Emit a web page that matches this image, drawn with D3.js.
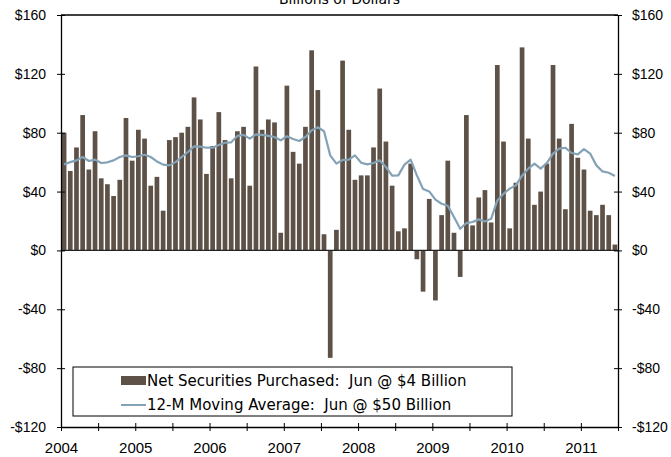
<!DOCTYPE html>
<html>
<head>
<meta charset="utf-8">
<script src="https://cdn.jsdelivr.net/npm/d3@7"></script>
<style>
  body { margin: 0; background: #fff; }
  svg { display: block; font-family: "DejaVu Sans", Verdana, sans-serif; }
</style>
</head>
<body>
<script>
// monthly net securities purchased, Jan 2004 .. Jun 2011 (billions)
const purchases = [
  80, 54, 70, 92, 55, 81, 49, 45, 37, 48, 90, 61,
  82, 76, 44, 50, 27, 75, 77, 80, 84, 104, 89, 52,
  71, 94, 75, 49, 81, 84, 44, 125, 82, 89, 87, 12,
  112, 67, 59, 84, 136, 109, 11, -73, 14, 129, 82, 48,
  51, 51, 70, 110, 74, 44, 13, 15, 59, -6, -28, 35,
  -34, 24, 61, 12, -18, 92, 17, 36, 41, 19, 126, 74,
  15, 46, 138, 76, 31, 40, 59, 126, 76, 28, 86, 63,
  55, 27, 24, 31, 24, 4
];
// 12-month moving average
const movingAvg = [
  58.5, 60, 61.2, 63.5, 60.8, 61.7, 59.4, 59.9, 61.2, 63.5, 64.6, 63.5,
  64, 65, 63.5, 60.5, 58.3, 57.8, 60, 63.5, 66.9, 70.7, 70.5, 69.8,
  69.8, 71.7, 73.2, 73.5, 77.8, 78.5, 76, 78.9, 78.5, 77.8, 77.1, 74.8,
  77.6, 75.7, 74.4, 77.1, 81.6, 83.7, 81, 64.6, 59, 61.5, 61.7, 64.6,
  59.6, 58.5, 59.4, 61.2, 56.7, 50.8, 51, 58.3, 61.7, 51, 41.7, 40.1,
  34.5, 31.7, 30.4, 22.7, 14.7, 18.6, 19.3, 21.1, 19.7, 21.5, 34, 38.5,
  42, 44.2, 50.8, 55.6, 59, 55.6, 59.4, 65.8, 69.2, 69.8, 66.2, 65.3,
  68.9, 65.8, 57.8, 53.7, 52.8, 50.6
];
const years = ["2004", "2005", "2006", "2007", "2008", "2009", "2010", "2011"];
const yTicks = [-120, -80, -40, 0, 40, 80, 120, 160];
const legendItems = [
  "Net Securities Purchased:  Jun @ $4 Billion",
  "12-M Moving Average:  Jun @ $50 Billion"
];

const width = 671, height = 457;
const margin = {top: 15, right: 53, bottom: 30, left: 61};
const barColor = "#5e5248", lineColor = "#84a2b6";

const months = d3.range(purchases.length);

const x = d3.scaleBand()
  .domain(months)
  .range([margin.left, width - margin.right])
  .paddingInner(0.24)
  .paddingOuter(0.12);

// month index -> x position of month boundary
const xm = d3.scaleLinear()
  .domain([0, purchases.length])
  .range([margin.left, width - margin.right]);

const y = d3.scaleLinear()
  .domain([-120, 160])
  .range([height - margin.bottom, margin.top]);

const svg = d3.select("body").append("svg")
  .attr("width", width)
  .attr("height", height);

svg.append("text")
  .attr("x", (margin.left + width - margin.right) / 2)
  .attr("y", 4)
  .attr("text-anchor", "middle")
  .attr("font-size", 14)
  .text("Billions of Dollars");

// bars
svg.append("g")
  .attr("fill", barColor)
  .selectAll("rect")
  .data(purchases)
  .join("rect")
  .attr("x", (d, i) => x(i))
  .attr("width", x.bandwidth())
  .attr("y", d => y(Math.max(0, d)))
  .attr("height", d => Math.abs(y(d) - y(0)));

// zero line
svg.append("line")
  .attr("x1", margin.left).attr("x2", width - margin.right)
  .attr("y1", y(0)).attr("y2", y(0))
  .attr("stroke", "#222").attr("stroke-width", 1.2);

// moving average
const line = d3.line()
  .x((d, i) => x(i) + x.bandwidth() / 2)
  .y(d => y(d))
  .curve(d3.curveLinear);

svg.append("path")
  .datum(movingAvg)
  .attr("fill", "none")
  .attr("stroke", lineColor)
  .attr("stroke-width", 2.2)
  .attr("stroke-linejoin", "round")
  .attr("d", line);

const crossTicks = (g, dir, size) => g
  .call(g => g.selectAll(".tick line")
    .attr(dir + "1", -4).attr(dir + "2", 4)
    .attr("stroke", "#000"))
  .call(g => g.select(".domain").attr("stroke", "#000").attr("stroke-width", 1.3))
  .call(g => g.selectAll("text").attr("font-size", size).attr("fill", "#000"));

const fmt = d => (d < 0 ? "-$" : "$") + Math.abs(d);

// left axis
svg.append("g")
  .attr("transform", `translate(${margin.left},0)`)
  .call(d3.axisLeft(y).tickValues(yTicks).tickFormat(fmt).tickSizeOuter(0).tickPadding(9))
  .call(g => crossTicks(g, "x", 14));

// right axis
svg.append("g")
  .attr("transform", `translate(${width - margin.right},0)`)
  .call(d3.axisRight(y).tickValues(yTicks).tickFormat(fmt).tickSizeOuter(0).tickPadding(8))
  .call(g => crossTicks(g, "x", 14));

// top border
svg.append("line")
  .attr("x1", margin.left).attr("x2", width - margin.right)
  .attr("y1", y(160)).attr("y2", y(160))
  .attr("stroke", "#000").attr("stroke-width", 1.3);

// bottom axis: ticks every six months, year labels on January
svg.append("g")
  .attr("transform", `translate(0,${height - margin.bottom})`)
  .call(d3.axisBottom(xm)
    .tickValues(d3.range(0, purchases.length + 1, 6))
    .tickFormat(d => d % 12 === 0 && years[d / 12] ? years[d / 12] : "")
    .tickSizeOuter(0)
    .tickPadding(9))
  .call(g => crossTicks(g, "y", 15));

// legend
const lg = svg.append("g").attr("transform", "translate(73,367)");
lg.append("rect")
  .attr("width", 439).attr("height", 49)
  .attr("fill", "#fff").attr("stroke", "#000").attr("stroke-width", 1);
lg.append("rect")
  .attr("x", 48).attr("y", 9).attr("width", 25).attr("height", 9)
  .attr("fill", barColor);
lg.append("line")
  .attr("x1", 48).attr("x2", 73).attr("y1", 38).attr("y2", 38)
  .attr("stroke", lineColor).attr("stroke-width", 2);
lg.selectAll("text")
  .data(legendItems)
  .join("text")
  .attr("x", 74)
  .attr("y", (d, i) => 14 + i * 24)
  .attr("dy", "0.35em")
  .attr("font-size", 15)
  .attr("xml:space", "preserve")
  .style("white-space", "pre")
  .text(d => d);
</script>
</body>
</html>
